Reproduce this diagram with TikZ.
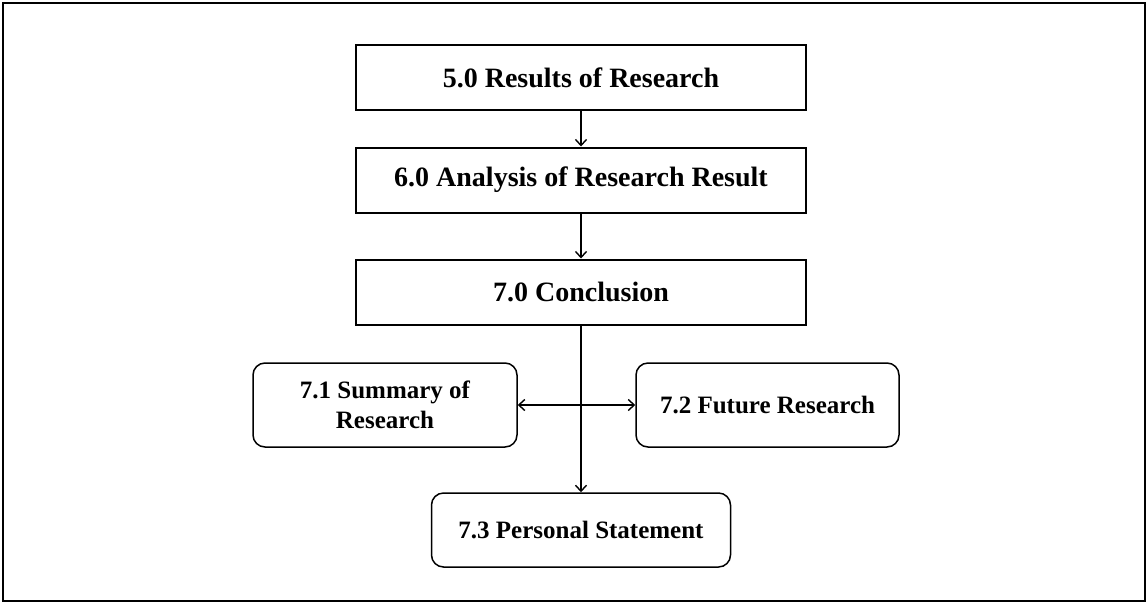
\documentclass[tikz,border=0pt]{standalone}
\usepackage{fontspec}
\setmainfont{Liberation Serif}
\usetikzlibrary{arrows.meta}
\begin{document}
\begin{tikzpicture}[x=1pt,y=-1pt,
  label/.style={align=center, inner sep=0pt},
  mainbox/.style={label, font=\bfseries\fontsize{28}{32}\selectfont, draw, line width=2pt, minimum width=450pt, minimum height=65pt},
  subbox/.style={label, font=\bfseries\fontsize{25}{30}\selectfont, draw, line width=1.5pt, rounded corners=12pt, minimum height=84pt},
  link/.style={line width=1.4pt, -{Straight Barb[length=6pt,width=11pt]}},
  twoway/.style={line width=1.4pt, {Straight Barb[length=6pt,width=11pt]}-{Straight Barb[length=6pt,width=11pt]}}]
\useasboundingbox (0,0) rectangle (1147,603);
% outer frame
\draw[line width=2pt] (3,3) rectangle (1145,601);

% main chapter boxes
\node[mainbox] (r5) at (581,77.5) {5.0 Results of Research};
\node[mainbox] (r6) at (581,180) {6.0 Analysis of Research Result};
\node[mainbox] (r7) at (581,292) {7.0 Conclusion};

% sub-section boxes
\node[subbox, minimum width=264pt] (s71) at (385,405) {7.1 Summary of\\Research};
\node[subbox, minimum width=263pt] (s72) at (767.5,405) {7.2 Future Research};
\node[subbox, minimum width=299pt, minimum height=74pt] (s73) at (581,530) {7.3 Personal Statement};

% connectors
\draw[link] (r5) -- (r6);
\draw[link] (r6) -- (r7);
\draw[link] (r7) -- (s73);
\draw[twoway] (s71) -- (s72);
\end{tikzpicture}
\end{document}
